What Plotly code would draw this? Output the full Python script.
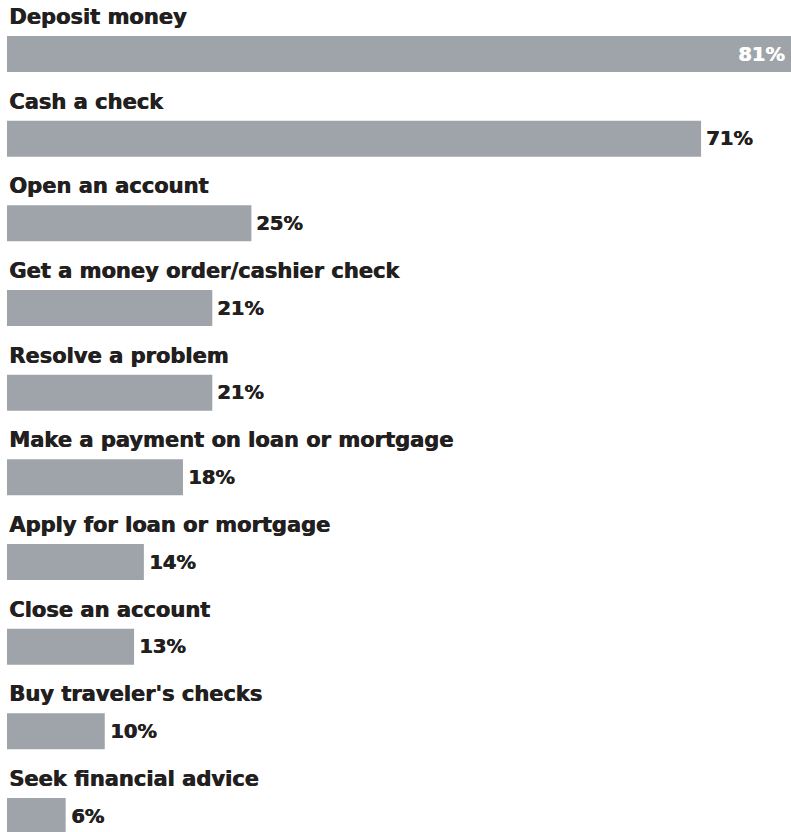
import plotly.graph_objects as go

# Reasons for visiting a bank branch (share of respondents, %)
categories = [
    "Deposit money",
    "Cash a check",
    "Open an account",
    "Get a money order/cashier check",
    "Resolve a problem",
    "Make a payment on loan or mortgage",
    "Apply for loan or mortgage",
    "Close an account",
    "Buy traveler's checks",
    "Seek financial advice",
]
values = [81, 71, 25, 21, 21, 18, 14, 13, 10, 6]

BAR = "#9ea4a9"
INK = "#231f20"
FONT = "DejaVu Sans"
LABEL_FS = 21
VALUE_FS = 19.5


def heavy(color):
    # a thin horizontal shadow makes the bold face read a little blacker
    return f"0.7px 0 0 {color}"


fig = go.Figure(
    go.Bar(
        x=values,
        y=categories,
        orientation="h",
        width=0.425,
        marker=dict(color=BAR, line=dict(width=0)),
        hoverinfo="skip",
    )
)

annotations = []
for i, (cat, val) in enumerate(zip(categories, values)):
    # category name above each bar
    annotations.append(dict(
        x=0, y=cat, xref="x", yref="y", text=f"<b>{cat}</b>",
        showarrow=False, xanchor="left", yanchor="middle", yshift=37,
        font=dict(family=FONT, size=LABEL_FS, color=INK, shadow=heavy(INK)),
    ))
    # value label: inside the bar when it runs to the edge, else just past its end
    if i == 0:
        annotations.append(dict(
            x=1, y=cat, xref="paper", yref="y", text=f"<b>{val}%</b>",
            showarrow=False, xanchor="right", yanchor="middle", xshift=-4,
            font=dict(family=FONT, size=VALUE_FS, color="white", shadow=heavy("white")),
        ))
    else:
        annotations.append(dict(
            x=val, y=cat, xref="x", yref="y", text=f"<b>{val}%</b>",
            showarrow=False, xanchor="left", yanchor="middle", xshift=3,
            font=dict(family=FONT, size=VALUE_FS, color=INK, shadow=heavy(INK)),
        ))

fig.update_layout(
    width=791, height=832,
    margin=dict(l=7, r=0, t=0, b=0),
    paper_bgcolor="white", plot_bgcolor="white",
    showlegend=False,
    annotations=annotations,
    xaxis=dict(range=[0, 80.2], visible=False, fixedrange=True),
    yaxis=dict(type="category", categoryorder="array", categoryarray=categories,
               range=[9.189, -0.638], visible=False, fixedrange=True),
)

fig.write_html("out.html")
